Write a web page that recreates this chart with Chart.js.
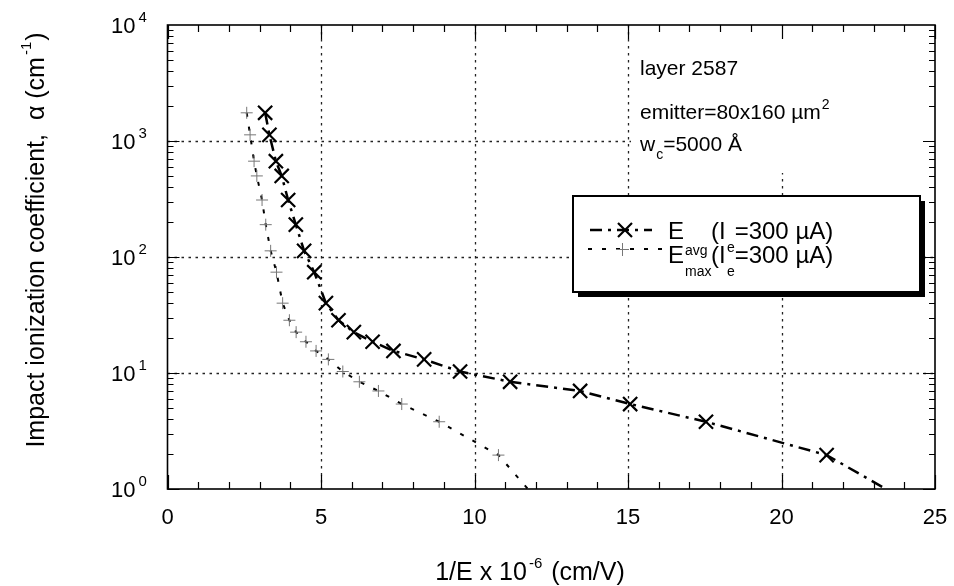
<!DOCTYPE html>
<html>
<head>
<meta charset="utf-8">
<script src="https://cdn.jsdelivr.net/npm/chart.js@4.4.1/dist/chart.umd.min.js"></script>
<style>
  html, body { margin: 0; padding: 0; background: #fff; }
  #wrap { width: 954px; height: 586px; }
</style>
</head>
<body>
<div id="wrap"><canvas id="chart" width="954" height="586"></canvas></div>
<script>
// impact ionization coefficient (cm^-1), shared by both field estimates
const alpha = [1750, 1130, 670, 500, 310, 190, 113, 74, 40, 28.5, 22.5, 18.6, 15.5, 13.1, 10.3, 8.4, 7.0, 5.4, 3.8, 1.96];
// 1/E x 10^-6 (cm/V)
const invEavg = [3.18, 3.32, 3.53, 3.72, 3.93, 4.18, 4.45, 4.78, 5.16, 5.57, 6.07, 6.68, 7.36, 8.36, 9.53, 11.16, 13.44, 15.07, 17.54, 21.47];
const invEmax = [2.58, 2.69, 2.82, 2.91, 3.08, 3.20, 3.36, 3.55, 3.75, 3.97, 4.19, 4.51, 4.84, 5.24, 5.71, 6.25, 6.87, 7.63, 8.85, 10.78];
// where the curves run out of the plot at alpha = 1
const tailEavg = [23.4, 1];
const tailEmax = [11.74, 1];

const xTicks = [0, 5, 10, 15, 20, 25];
const yExponents = [0, 1, 2, 3, 4];

const FONT = "'Liberation Sans', Arial, Helvetica, sans-serif";

function series(xs, tail) {
  const pts = xs.map((x, i) => ({ x: x, y: alpha[i] }));
  pts.push({ x: tail[0], y: tail[1] });
  return pts;
}
function radii(n, r) {
  const a = [];
  for (let i = 0; i < n; i++) a.push(r);
  a.push(0);
  return a;
}

// draw a run of text pieces [text, size, dy, extraGap], returns width
function rich(ctx, parts, x, y, measureOnly) {
  let cx = x;
  parts.forEach(p => {
    ctx.font = p[1] + 'px ' + FONT;
    if (!measureOnly) ctx.fillText(p[0], cx, y + (p[2] || 0));
    cx += ctx.measureText(p[0]).width + (p[3] || 0);
  });
  return cx - x;
}

const decor = {
  id: 'decor',
  beforeDraw(chart) {
    const ctx = chart.ctx;
    ctx.save();
    ctx.fillStyle = '#fff';
    ctx.fillRect(0, 0, chart.width, chart.height);
    ctx.restore();
  },
  beforeDatasetsDraw(chart) {
    const ctx = chart.ctx, a = chart.chartArea;
    const xs = chart.scales.x, ys = chart.scales.y;
    ctx.save();
    ctx.strokeStyle = '#222';
    ctx.lineWidth = 1.3;
    ctx.setLineDash([2.5, 4.5]);
    xTicks.slice(1, -1).forEach(v => {
      const px = Math.round(xs.getPixelForValue(v)) + 0.5;
      ctx.beginPath(); ctx.moveTo(px, a.top); ctx.lineTo(px, a.bottom); ctx.stroke();
    });
    yExponents.slice(1, -1).forEach(e => {
      const py = Math.round(ys.getPixelForValue(Math.pow(10, e))) + 0.5;
      ctx.beginPath(); ctx.moveTo(a.left, py); ctx.lineTo(a.right, py); ctx.stroke();
    });
    ctx.setLineDash([]);
    // opaque box behind the annotation text
    ctx.fillStyle = '#fff';
    ctx.fillRect(xs.getPixelForValue(15) + 3, a.top + 1, a.right - xs.getPixelForValue(15) - 4, 147);
    ctx.restore();
  },
  afterDatasetsDraw(chart) {
    const ctx = chart.ctx, a = chart.chartArea;
    const xs = chart.scales.x, ys = chart.scales.y;
    ctx.save();
    ctx.strokeStyle = '#000';
    ctx.fillStyle = '#000';

    // frame
    ctx.lineWidth = 1.6;
    ctx.strokeRect(a.left, a.top, a.right - a.left, a.bottom - a.top);

    // inward ticks
    ctx.lineWidth = 1.2;
    ctx.beginPath();
    for (let v = 0; v <= 25; v++) {
      const px = Math.round(xs.getPixelForValue(v)) + 0.5;
      const len = v % 5 === 0 ? 14 : 7;
      ctx.moveTo(px, a.bottom); ctx.lineTo(px, a.bottom - len);
      ctx.moveTo(px, a.top); ctx.lineTo(px, a.top + len);
    }
    for (let e = 0; e < 4; e++) {
      for (let m = 1; m <= 9; m++) {
        const py = Math.round(ys.getPixelForValue(m * Math.pow(10, e))) + 0.5;
        const len = m === 1 ? 12 : 6;
        ctx.moveTo(a.left, py); ctx.lineTo(a.left + len, py);
        ctx.moveTo(a.right, py); ctx.lineTo(a.right - len, py);
      }
    }
    ctx.stroke();

    // tick labels
    ctx.textBaseline = 'alphabetic';
    ctx.font = '22px ' + FONT;
    ctx.textAlign = 'center';
    xTicks.forEach(v => ctx.fillText(String(v), xs.getPixelForValue(v), 524));
    ctx.textAlign = 'left';
    yExponents.forEach(e => {
      const py = ys.getPixelForValue(Math.pow(10, e));
      rich(ctx, [['10', 22, 0, 3], [String(e), 15, -11]], 111, py + 8);
    });

    // axis titles
    ctx.save();
    ctx.translate(44, 240);
    ctx.rotate(-Math.PI / 2);
    const yt = [['Impact ionization coefficient,  \u03b1 (cm', 25, 0, 2], ['-1', 15, -13, 1], [')', 25, 0]];
    const yw = rich(ctx, yt, 0, 0, true);
    rich(ctx, yt, -yw / 2, 0);
    ctx.restore();
    const xt = [['1/E x 10', 25, 0, 2], ['-6', 15, -12, 2], [' (cm/V)', 25, 0]];
    const xw = rich(ctx, xt, 0, 0, true);
    rich(ctx, xt, 530 - xw / 2, 580);

    // annotation
    rich(ctx, [['layer 2587', 21]], 640, 75);
    rich(ctx, [['emitter=80x160 \u00b5m', 21, 0, 1], ['2', 14, -10]], 640, 119);
    rich(ctx, [['w', 21, 0, 1], ['c', 14, 8, 0], ['=5000 \u00c5', 21]], 640, 151);

    // legend box with drop shadow
    const lx = 573, ly = 196, lw = 347, lh = 96;
    ctx.fillRect(lx + 5, ly + 5, lw, lh);
    ctx.fillStyle = '#fff';
    ctx.fillRect(lx, ly, lw, lh);
    ctx.lineWidth = 2;
    ctx.strokeRect(lx, ly, lw, lh);
    ctx.fillStyle = '#000';

    ctx.lineWidth = 2.4;
    ctx.setLineDash([12, 6, 3, 6]);
    ctx.beginPath(); ctx.moveTo(590, 230); ctx.lineTo(652, 230); ctx.stroke();
    ctx.lineWidth = 2;
    ctx.setLineDash([4, 10]);
    ctx.beginPath(); ctx.moveTo(588, 249); ctx.lineTo(664, 249); ctx.stroke();
    ctx.setLineDash([]);
    ctx.lineWidth = 2.2;
    ctx.beginPath();
    ctx.moveTo(618, 223); ctx.lineTo(632, 237);
    ctx.moveTo(632, 223); ctx.lineTo(618, 237);
    ctx.stroke();
    ctx.strokeStyle = '#777';
    ctx.lineWidth = 1;
    ctx.beginPath();
    ctx.moveTo(616, 249.5); ctx.lineTo(629, 249.5);
    ctx.moveTo(622.5, 243); ctx.lineTo(622.5, 256);
    ctx.stroke();

    rich(ctx, [['E', 24]], 668, 239);
    rich(ctx, [['avg', 14]], 685, 255);
    rich(ctx, [['(I', 24, 0, 9], ['=300 \u00b5A)', 24]], 711, 239);
    rich(ctx, [['e', 14]], 727, 252);
    rich(ctx, [['E', 24]], 668, 263);
    rich(ctx, [['max', 14]], 685, 276);
    rich(ctx, [['(I', 24, 0, 9], ['=300 \u00b5A)', 24]], 711, 263);
    rich(ctx, [['e', 14]], 727, 276);

    ctx.restore();
  }
};

new Chart(document.getElementById('chart'), {
  type: 'scatter',
  data: {
    datasets: [{
      label: 'Eavg',
      data: series(invEavg, tailEavg),
      showLine: true,
      borderColor: '#000',
      borderWidth: 2.5,
      borderDash: [12, 6, 3, 6],
      pointStyle: 'crossRot',
      pointRadius: radii(invEavg.length, 10),
      pointBorderColor: '#000',
      pointBorderWidth: 2.2,
      pointBackgroundColor: '#000'
    }, {
      label: 'Emax',
      data: series(invEmax, tailEmax),
      showLine: true,
      borderColor: '#000',
      borderWidth: 2,
      borderDash: [4, 10],
      pointStyle: 'cross',
      pointRadius: radii(invEmax.length, 6),
      pointBorderColor: '#777',
      pointBorderWidth: 1,
      pointBackgroundColor: '#777'
    }]
  },
  options: {
    responsive: false,
    animation: false,
    layout: { padding: { left: 167.5, right: 19, top: 25, bottom: 97 } },
    plugins: { legend: { display: false }, tooltip: { enabled: false } },
    scales: {
      x: { type: 'linear', min: 0, max: 25, display: false },
      y: { type: 'logarithmic', min: 1, max: 10000, display: false }
    }
  },
  plugins: [decor]
});
</script>
</body>
</html>
